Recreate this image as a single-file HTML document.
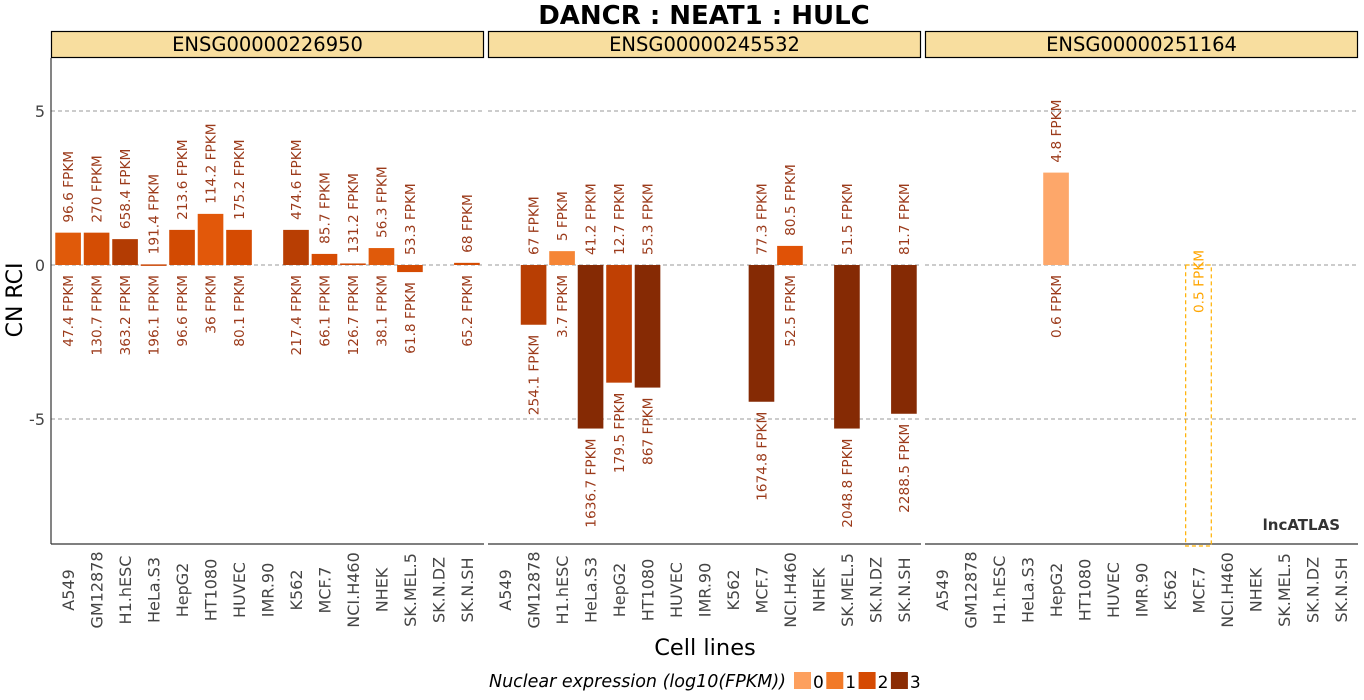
<!DOCTYPE html>
<html><head><meta charset="utf-8"><style>
body{margin:0;background:#fff;}
svg{display:block;font-family:"DejaVu Sans","Liberation Sans",sans-serif;}
</style></head><body>
<svg id="c" width="1364" height="700"></svg>
<script>
const categories=["A549","GM12878","H1.hESC","HeLa.S3","HepG2","HT1080","HUVEC","IMR.90","K562","MCF.7","NCI.H460","NHEK","SK.MEL.5","SK.N.DZ","SK.N.SH"];
const panels=["ENSG00000226950","ENSG00000245532","ENSG00000251164"];
const rciP1=[1.05,1.05,0.84,0.02,1.14,1.66,1.14,null,1.14,0.36,0.05,0.55,-0.23,null,0.07];
const rciP2=[null,-1.94,0.45,-5.31,-3.82,-3.98,null,null,null,-4.44,0.62,null,-5.31,null,-4.83];
const rciP3=[null,null,null,null,3.0,null,null,null,null,null,null,null,null,null,null];
const colP1=["#e05a0a","#d44d04","#b33c03","#c94503","#d24a02","#e2580a","#d54b02",null,"#b83e03","#d64c03","#d04803","#e05a0a","#d54b02",null,"#d54b02"];
const colP2=[null,"#b83e03","#f58535","#852a04","#c04003","#862a04",null,null,null,"#852a04","#e05206",null,"#852a04",null,"#852a04"];
const colP3=[null,null,null,null,"#fda76a",null,null,null,null,null,null,null,null,null,null];
const topP1=["96.6","270","658.4","191.4","213.6","114.2","175.2",null,"474.6","85.7","131.2","56.3","53.3",null,"68"];
const botP1=["47.4","130.7","363.2","196.1","96.6","36","80.1",null,"217.4","66.1","126.7","38.1","61.8",null,"65.2"];
const topP2=[null,"67","5","41.2","12.7","55.3",null,null,null,"77.3","80.5",null,"51.5",null,"81.7"];
const botP2=[null,"254.1","3.7","1636.7","179.5","867",null,null,null,"1674.8","52.5",null,"2048.8",null,"2288.5"];
const topP3=[null,null,null,null,"4.8",null,null,null,null,null,null,null,null,null,null];
const botP3=[null,null,null,null,"0.6",null,null,null,null,null,null,null,null,null,null];
const yTicks=[5,0,-5];
const legendLevels=["0","1","2","3"];
const legendColors=["#FDA05E","#F27A28","#D54A02","#8B2C04"];

const svg=document.getElementById('c');
const NS="http://www.w3.org/2000/svg";
function mk(tag,attrs,parent){const e=document.createElementNS(NS,tag);for(const k in attrs)e.setAttribute(k,attrs[k]);(parent||svg).appendChild(e);return e;}
const panelX=[51,488,925],panelW=433,plotTop=58,plotBot=544;
const y=v=>265-v*30.8;
const x=(p,i)=>panelX[p]+panelW*(0.6+i)/15.2;
const bw=panelW/15.2*0.9;
const lab="#9b3a1a";

let t=mk('text',{x:704,y:24,'text-anchor':'middle','font-size':26,'font-weight':'bold'});t.textContent="DANCR : NEAT1 : HULC";



const rci=[rciP1,rciP2,rciP3],cols=[colP1,colP2,colP3],tops=[topP1,topP2,topP3],bots=[botP1,botP2,botP3];
for(let p=0;p<3;p++){
  const s=mk('rect',{x:panelX[p]+0.5,y:31.5,width:panelW-1,height:26,fill:'#F8DE9F',stroke:'#000','stroke-width':1.2});
  
  
  t=mk('text',{x:panelX[p]+panelW/2,y:51,'text-anchor':'middle','font-size':19.5});t.textContent=panels[p];
  
  
  yTicks.forEach(v=>{const g=mk('line',{x1:panelX[p],x2:panelX[p]+panelW,y1:y(v),y2:y(v),stroke:'#999','stroke-dasharray':'4,3','stroke-width':1});
    
    });
  const ax=mk('line',{x1:panelX[p],x2:panelX[p]+panelW,y1:plotBot,y2:plotBot,stroke:'#333','stroke-width':1.2});
  
  
  categories.forEach((c,i)=>{
    const cx=x(p,i);
    t=mk('text',{transform:`translate(${cx+6},590) rotate(-90)`,'text-anchor':'middle','font-size':16,fill:'#444'});t.textContent=c;
    
    
    const v=rci[p][i];
    if(v!==null){
      const b=mk('rect',{x:cx-bw/2,y:Math.min(y(v),y(0)),width:bw,height:Math.max(Math.abs(y(v)-y(0)),1.5),fill:cols[p][i]});
      
      
      const topY=Math.min(y(v),y(0))-10, botY=Math.max(y(v),y(0))+10;
      if(tops[p][i]){t=mk('text',{transform:`translate(${cx+5},${topY}) rotate(-90)`,'text-anchor':'start','font-size':13.7,fill:lab});t.textContent=tops[p][i]+" FPKM";
        
        }
      if(bots[p][i]){t=mk('text',{transform:`translate(${cx+5},${botY}) rotate(-90)`,'text-anchor':'end','font-size':13.7,fill:lab});t.textContent=bots[p][i]+" FPKM";
        
        }
    }
  });
}
const la=mk('line',{x1:51,x2:51,y1:plotTop,y2:plotBot,stroke:'#333','stroke-width':1.2});


yTicks.forEach(v=>{t=mk('text',{x:45,y:y(v)+6,'text-anchor':'end','font-size':16,fill:'#444'});t.textContent=v;
  
  });
const hx=x(2,9);
const hl=mk('rect',{x:hx-bw/2,y:y(0),width:bw,height:plotBot-y(0)+2,fill:'none',stroke:'#FFB000','stroke-dasharray':'4,3','stroke-width':1.2});


t=mk('text',{transform:`translate(${hx+5},250) rotate(-90)`,'text-anchor':'end','font-size':13.7,fill:'#FFA500'});t.textContent="0.5 FPKM";


t=mk('text',{x:1340,y:530,'text-anchor':'end','font-size':15,'font-weight':'bold',fill:'#333'});t.textContent="lncATLAS";


t=mk('text',{x:705,y:655,'text-anchor':'middle','font-size':22.5});t.textContent="Cell lines";


t=mk('text',{transform:'translate(22,300) rotate(-90)','text-anchor':'middle','font-size':22});t.textContent="CN RCI";


t=mk('text',{x:489,y:687,'font-size':17.5,'font-style':'italic'});t.textContent="Nuclear expression (log10(FPKM))";


legendLevels.forEach((l,i)=>{
  const lx=794+i*32.3;
  const r=mk('rect',{x:lx,y:672,width:17,height:17,fill:legendColors[i]});
  
  
  t=mk('text',{x:lx+19,y:688,'font-size':17});t.textContent=l;
  
  
});
</script>
</body></html>
